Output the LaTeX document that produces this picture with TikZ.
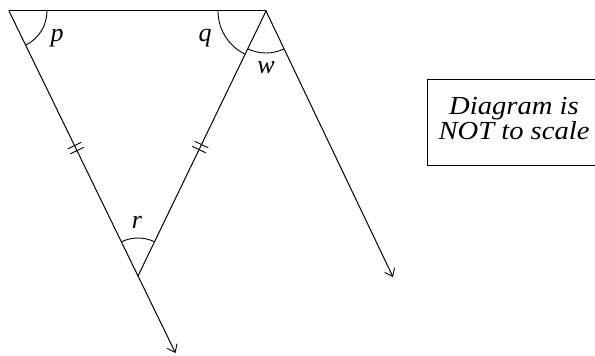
\documentclass[tikz,border=0pt]{standalone}
\usepackage{fontspec}
\setmainfont{Liberation Serif}
\usetikzlibrary{arrows.meta,calc}
\begin{document}
\begin{tikzpicture}[x=1pt,y=1pt,
  edge/.style={line width=1pt,line cap=round},
  arrowline/.style={edge,-{Straight Barb[length=7pt,width=11pt,line width=0.9pt]}},
  anglearc/.style={line width=0.9pt},
  ticks/.style={line width=0.9pt},
  lbl/.style={font=\fontsize{26}{26}\selectfont\itshape,inner sep=0pt},
  notetext/.style={align=center,font=\fontsize{26}{24}\selectfont\itshape,
    inner sep=0pt,xscale=1.1,transform shape},
  boxline/.style={line width=0.9pt}]
\useasboundingbox (0,0) rectangle (595,356);
\clip (0,0) rectangle (595,356);
\fill[white] (0,0) rectangle (595,356);
\coordinate (A) at (9,345);
\coordinate (B) at (266,345);
\coordinate (C) at (138,80);
\coordinate (L) at (175.5,3);
\coordinate (R) at (393,79);
% lines
\draw[edge] (A) -- (B);
\draw[arrowline] (A) -- (L);
\draw[edge] (B) -- (C);
\draw[arrowline] (B) -- (R);
% angle arcs
\draw[anglearc] ($(A)+(38,0)$) arc[start angle=0,end angle=-64.2,radius=38];
\draw[anglearc] ($(B)+(-48,0)$) arc[start angle=180,end angle=244.2,radius=48];
\draw[anglearc] ($(B)+(244.2:42)$) arc[start angle=244.2,end angle=295.8,radius=42];
\draw[anglearc] ($(C)+(64.2:38)$) arc[start angle=64.2,end angle=115.8,radius=38];
% tick marks
\path (A) -- (C) coordinate[pos=0.508] (t1) coordinate[pos=0.527] (t2);
\path (B) -- (C) coordinate[pos=0.504] (t3) coordinate[pos=0.523] (t4);
\foreach \t/\e in {t1/C,t2/C,t3/C,t4/C}{
  \draw[ticks] ($(\t)!7.5pt!90:(\e)$) -- ($(\t)!7.5pt!-90:(\e)$);
}
% labels
\node[lbl] (p) at (57,318) {p};
\node[lbl] (q) at (205,318) {q};
\node[lbl] (w) at (266,288) {w};
\node[lbl] (r) at (137,134) {r};
% note box (right side runs off the picture)
\coordinate (bx1) at (605,277);
\coordinate (bx2) at (427,277);
\coordinate (bx3) at (427,191);
\coordinate (bx4) at (605,191);
\draw[boxline] (bx1) -- (bx2) -- (bx3) -- (bx4);
\node[notetext,anchor=base] (note1) at (514,241) {Diagram is};
\node[notetext,anchor=base] (note2) at (514,216) {NOT to scale};
\end{tikzpicture}
\end{document}
